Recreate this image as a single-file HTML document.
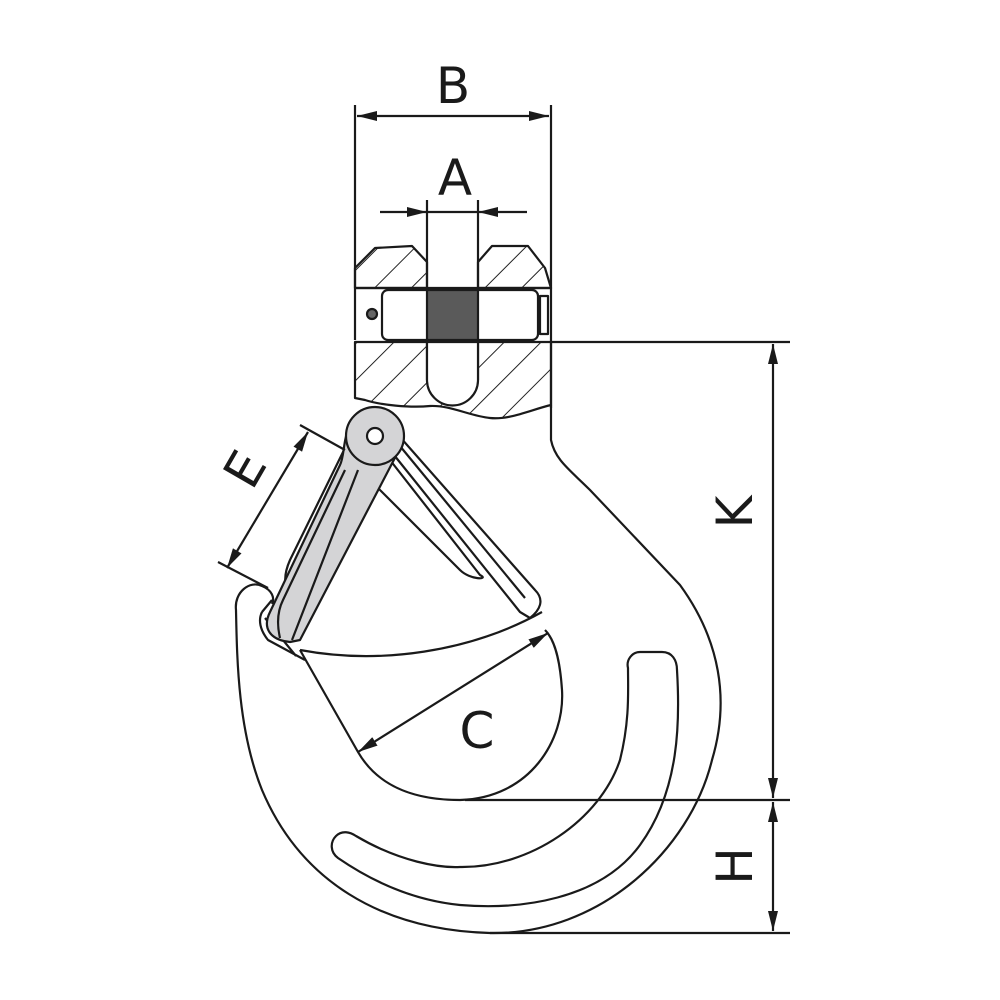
<!DOCTYPE html>
<html><head><style>html,body{margin:0;padding:0;background:#fff}svg{display:block}</style></head>
<body>
<svg width="1000" height="1000" viewBox="0 0 1000 1000" xmlns="http://www.w3.org/2000/svg">
<defs>
<pattern id="h" patternUnits="userSpaceOnUse" width="26" height="26" patternTransform="rotate(45)">
<line x1="0" y1="0" x2="0" y2="26" stroke="#222" stroke-width="2"/>
</pattern>
<marker id="ar" viewBox="0 0 20 10" refX="20" refY="5" markerWidth="20" markerHeight="10" markerUnits="userSpaceOnUse" orient="auto-start-reverse">
<path d="M0,0 L20,5 L0,10 Z" fill="#1a1a1a"/>
</marker>
</defs>
<g fill="none" stroke="#1a1a1a" stroke-width="2.2" stroke-linejoin="round">
<line x1="355" y1="105" x2="355" y2="340"/>
<line x1="551" y1="105" x2="551" y2="408"/>
<line x1="357" y1="116" x2="549" y2="116" marker-start="url(#ar)" marker-end="url(#ar)"/>
<line x1="427" y1="200" x2="427" y2="380"/>
<line x1="478" y1="200" x2="478" y2="380"/>
<line x1="380" y1="212" x2="427" y2="212" marker-end="url(#ar)"/>
<line x1="527" y1="212" x2="478" y2="212" marker-end="url(#ar)"/>
<line x1="427" y1="212" x2="478" y2="212"/>
<path d="M355,288 L355,268 L375,248 L412,246 L427,262 L427,288 Z" fill="url(#h)"/>
<path d="M478,288 L478,262 L492,246 L528,246 L545,268 L551,288 Z" fill="url(#h)"/>
<line x1="355" y1="288" x2="551" y2="288"/>
<rect x="382" y="290" width="156" height="50" rx="6" fill="#fff"/>
<rect x="427" y="290" width="51" height="50" fill="#5a5a5a" stroke="#1a1a1a"/>
<rect x="540" y="296" width="8" height="38" fill="#fff"/>
<circle cx="372" cy="314" r="5" fill="#666"/>
<path d="M355,342 L551,342 L551,405 C530,410 510,420 490,418 C470,416 450,405 430,406 C410,408 380,405 365,400 L355,398 Z" fill="url(#h)"/>
<path d="M427,342 L427,380 A25.5,25.5 0 0 0 478,380 L478,342 Z" fill="#fff"/>
<line x1="551" y1="342" x2="790" y2="342"/>
<path d="M551,405 L551,440 C555,460 570,470 590,490 L680,585 C720,640 730,700 712,760 C690,850 600,935 490,933 C380,930 300,880 262,790 C238,730 237,660 236,610 C234,592 250,580 262,586 C272,590 275,598 272,604"/>
<path d="M300,650 L358,752 C380,790 420,800 460,800 C530,798 565,740 562,690 C560,660 555,640 545,630"/>
<path d="M300,650 C380,665 470,652 542,612"/>
<path d="M628,668 C626,660 632,652 640,652 L662,652 C672,652 677,660 677,670 C680,720 680,790 640,845 C600,900 520,910 460,905 C410,900 370,880 338,858 C330,852 330,842 336,836 C342,830 350,832 356,836 C400,862 440,868 460,867 C530,868 600,820 620,760 C630,720 628,690 628,668 Z"/>
<path d="M385,420 L535,590 C545,600 540,610 530,618 L520,612 L390,450"/>
<path d="M395,440 L525,598"/>
<path d="M390,460 L480,575 C490,580 470,580 460,570 L360,470"/>
<path d="M262,612 L272,600 M262,612 C258,620 260,630 268,640 L305,660 M265,618 L296,656"/>
<path d="M345,448 L290,560 C282,578 285,590 292,595"/>
<path d="M352,420 C342,440 345,455 340,465 L270,612 C262,628 270,640 290,642 L300,640 L398,452 C405,420 365,405 352,420 Z" fill="#d4d4d6"/>
<path d="M345,470 L283,600 C277,612 277,625 280,638 M358,470 L292,640"/>
<circle cx="375" cy="436" r="29" fill="#d4d4d6"/>
<circle cx="375" cy="436" r="8" fill="#fff"/>
<line x1="300" y1="425" x2="345" y2="450"/>
<line x1="218" y1="562" x2="268" y2="588"/>
<line x1="308" y1="432" x2="227" y2="568" marker-start="url(#ar)" marker-end="url(#ar)"/>
<line x1="548" y1="633" x2="358" y2="752" marker-start="url(#ar)" marker-end="url(#ar)"/>
<line x1="465" y1="800" x2="790" y2="800"/>
<line x1="490" y1="933" x2="790" y2="933"/>
<line x1="773" y1="344" x2="773" y2="798" marker-start="url(#ar)" marker-end="url(#ar)"/>
<line x1="773" y1="802" x2="773" y2="931" marker-start="url(#ar)" marker-end="url(#ar)"/>
</g>
<g font-family="'DejaVu Sans','Liberation Sans',sans-serif" font-size="50" fill="#1a1a1a" text-anchor="middle">
<text x="453" y="103">B</text>
<text x="455" y="195">A</text>
<text x="477" y="748">C</text>
<text transform="translate(752,512) rotate(-90)">K</text>
<text transform="translate(752,866) rotate(-90)">H</text>
<text transform="translate(260,478) rotate(-60)">E</text>
</g>
</svg>
</body></html>
